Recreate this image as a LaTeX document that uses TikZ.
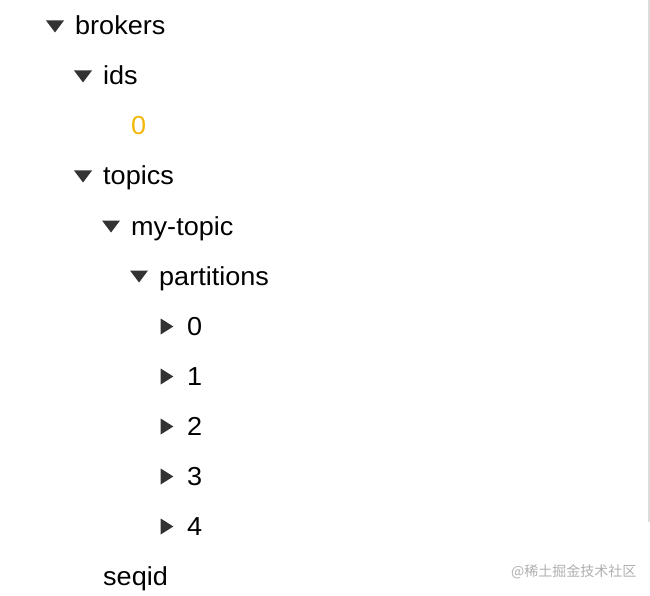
\documentclass[tikz,border=0pt]{standalone}
\usepackage{fontspec}
\setmainfont[FakeStretch=1.04]{Liberation Sans}
\newfontfamily\cjk{Noto Sans CJK SC}
\definecolor{tri}{HTML}{333333}
\definecolor{yel}{HTML}{F2B705}
\definecolor{wm}{HTML}{B0B0B0}
\definecolor{rule}{HTML}{DCDCDC}
\begin{document}
\begin{tikzpicture}[x=1pt,y=-1pt,
  lbl/.style={anchor=base west,inner sep=0pt,font=\fontsize{26}{28}\selectfont,text=black},
  down/.pic={\fill[tri] (-9,-6) -- (9,-6) -- (0,6) -- cycle;},
  right/.pic={\fill[tri] (-6.3,-8) -- (6.3,0) -- (-6.3,8) -- cycle;}]
\useasboundingbox (0,0) rectangle (650,596);
\fill[white] (0,0) rectangle (650,596);
\draw[rule,line width=2pt] (648.5,0) -- (648.5,522);
% rows
\pic at (55,26.5) {down};   \node[lbl] (brokers) at (75,35) {brokers};
\pic at (83,76.5) {down};   \node[lbl] (ids) at (103,85) {ids};
\node[lbl,text=yel] (id0) at (131,135) {0};
\pic at (83,176.5) {down};  \node[lbl] (topics) at (103,185) {topics};
\pic at (111,226.5) {down}; \node[lbl] (mytopic) at (131,235) {my-topic};
\pic at (139,276.5) {down}; \node[lbl] (partitions) at (159,285) {partitions};
\pic at (167,326.5) {right}; \node[lbl] (p0) at (187,335) {0};
\pic at (167,376.5) {right}; \node[lbl] (p1) at (187,385) {1};
\pic at (167,426.5) {right}; \node[lbl] (p2) at (187,435) {2};
\pic at (167,476.5) {right}; \node[lbl] (p3) at (187,485) {3};
\pic at (167,526.5) {right}; \node[lbl] (p4) at (187,535) {4};
\node[lbl] (seqid) at (103,585) {seqid};
\node[anchor=base west,inner sep=0pt,text=wm,font=\cjk\fontsize{14}{16}\selectfont] (wmk) at (511,576) {@稀土掘金技术社区};
\end{tikzpicture}
\end{document}
